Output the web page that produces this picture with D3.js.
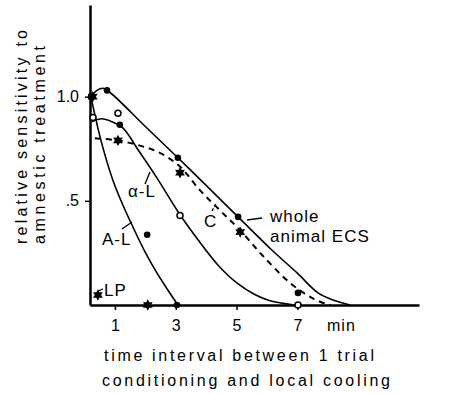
<!DOCTYPE html>
<html>
<head>
<meta charset="utf-8">
<script src="https://cdn.jsdelivr.net/npm/d3@7"></script>
<style>
  body { margin: 0; background: #fff; }
  svg { display: block; font-family: "Liberation Sans", Arial, sans-serif; }
  .axis path, .axis line { stroke: #000; }
  .axis text { font-size: 16px; fill: #000; }
</style>
</head>
<body>
<div id="chart"></div>
<script>
// Curvas (minutos, sensibilidad relativa)
const aLx = [0.21, 0.54, 0.93, 1.26, 1.59, 1.99, 2.38, 2.74, 3.07];
const aLy = [1.0, 0.79, 0.60, 0.48, 0.375, 0.255, 0.154, 0.072, 0];

const alphaLx = [0.24, 0.57, 0.9, 1.26, 1.76, 2.38, 3.14, 3.8, 4.4, 5.01, 5.6, 6.1, 6.9];
const alphaLy = [0.88, 0.894, 0.88, 0.85, 0.745, 0.61, 0.433, 0.30, 0.19, 0.106, 0.05, 0.02, 0];

const wholeX = [0.21, 0.41, 0.61, 0.84, 2.0, 3.07, 4.0, 5.05, 6.16, 6.99, 7.68, 8.17, 8.73];
const wholeY = [1.0, 1.03, 1.04, 1.02, 0.857, 0.707, 0.574, 0.423, 0.264, 0.154, 0.058, 0.024, 0];

const coolX = [0.34, 1.1, 1.82, 2.41, 3.1, 3.8, 4.45, 5.11, 5.84, 6.76, 7.48, 7.94, 8.1];
const coolY = [0.80, 0.79, 0.765, 0.735, 0.67, 0.55, 0.455, 0.36, 0.24, 0.106, 0.034, 0.005, 0];

// Puntos
const filledX = [0.22, 0.74, 3.07, 5.05, 7.02, 1.16, 2.06, 3.04];
const filledY = [1.0, 1.03, 0.707, 0.423, 0.058, 0.865, 0.337, 0];
const openX = [0.28, 1.1, 3.14, 7.02];
const openY = [0.9, 0.92, 0.43, 0];
const starX = [0.27, 1.1, 3.14, 5.12, 0.44, 2.08];
const starY = [1.0, 0.79, 0.635, 0.35, 0.048, 0];

const xTicks = [1, 3, 5, 7];
const yTicks = [0.5, 1.0];
const yTickLabels = [".5", "1.0"];

const width = 454, height = 394;

const svg = d3.select("#chart").append("svg")
    .attr("width", width)
    .attr("height", height);

const x = d3.scaleLinear().domain([0.18, 11.0]).range([90, 419]);
const y = d3.scaleLinear().domain([0, 1.44]).range([305, 5]);

const zip = (xs, ys) => xs.map((v, i) => [v, ys[i]]);
const path = d3.line().x(d => x(d[0])).y(d => y(d[1])).curve(d3.curveCatmullRom.alpha(0.5));

// estrella de seis puntas, como en la figura
const star6 = {
  draw(ctx, size) {
    const R = Math.sqrt(size) * 0.6, r = R * 0.55;
    for (let i = 0; i < 12; i++) {
      const a = Math.PI / 6 * i - Math.PI / 2;
      const rad = i % 2 ? r : R;
      if (i === 0) ctx.moveTo(rad * Math.cos(a), rad * Math.sin(a));
      else ctx.lineTo(rad * Math.cos(a), rad * Math.sin(a));
    }
    ctx.closePath();
  }
};

// Ejes
const gx = svg.append("g").attr("class", "axis")
    .attr("transform", "translate(0,305)")
    .call(d3.axisBottom(x).tickValues(xTicks).tickSize(5).tickSizeOuter(0).tickPadding(10).tickFormat(d3.format("d")));
const gy = svg.append("g").attr("class", "axis")
    .attr("transform", "translate(90,0)")
    .call(d3.axisLeft(y).tickValues(yTicks).tickSize(5).tickSizeOuter(0).tickPadding(6)
        .tickFormat((d, i) => yTickLabels[i]));
svg.selectAll(".axis path").attr("stroke-width", 2.5);
svg.selectAll(".axis line").attr("stroke-width", 1.5);

gx.append("text").attr("x", 327).attr("y", 15).attr("dy", "0.71em")
    .attr("text-anchor", "start").attr("fill", "#000").style("letter-spacing", "1px").text("min");

// Curvas
const curves = [
  { d: zip(aLx, aLy), dash: null },
  { d: zip(alphaLx, alphaLy), dash: null },
  { d: zip(wholeX, wholeY), dash: null },
  { d: zip(coolX, coolY), dash: "6,5" }
];
svg.selectAll(".curve").data(curves).enter().append("path")
    .attr("class", "curve")
    .attr("d", c => path(c.d))
    .attr("fill", "none")
    .attr("stroke", "#000")
    .attr("stroke-width", c => c.dash ? 2 : 1.6)
    .attr("stroke-dasharray", c => c.dash);

// Marcadores
svg.selectAll(".filled").data(zip(filledX, filledY)).enter().append("circle")
    .attr("cx", d => x(d[0])).attr("cy", d => y(d[1])).attr("r", 3.3).attr("fill", "#000");
svg.selectAll(".open").data(zip(openX, openY)).enter().append("circle")
    .attr("cx", d => x(d[0])).attr("cy", d => y(d[1])).attr("r", 3)
    .attr("fill", "#fff").attr("stroke", "#000").attr("stroke-width", 1.5);
svg.selectAll(".star").data(zip(starX, starY)).enter().append("path")
    .attr("transform", d => `translate(${x(d[0])},${y(d[1])})`)
    .attr("d", d3.symbol().type(star6).size(90))
    .attr("fill", "#000");

// Etiquetas de curvas
const labels = [
  { t: "α-L", x: 128, y: 197 },
  { t: "A-L", x: 102, y: 245 },
  { t: "C", x: 204, y: 227 },
  { t: "LP", x: 104, y: 296 },
  { t: "whole", x: 270, y: 222 },
  { t: "animal ECS", x: 270, y: 242 }
];
svg.selectAll(".lbl").data(labels).enter().append("text")
    .attr("x", d => d.x).attr("y", d => d.y)
    .style("font-size", "17px").style("letter-spacing", "1px")
    .text(d => d.t);

const leaders = [
  { x1: 145, y1: 184, x2: 150, y2: 172, dash: null },
  { x1: 122, y1: 229, x2: 132, y2: 222, dash: null },
  { x1: 212, y1: 211, x2: 217, y2: 202, dash: "3,2" },
  { x1: 98, y1: 291, x2: 103, y2: 289, dash: null },
  { x1: 247, y1: 220, x2: 262, y2: 218, dash: null }
];
svg.selectAll(".leader").data(leaders).enter().append("line")
    .attr("x1", d => d.x1).attr("y1", d => d.y1)
    .attr("x2", d => d.x2).attr("y2", d => d.y2)
    .attr("stroke", "#000").attr("stroke-width", 1.3)
    .attr("stroke-dasharray", d => d.dash);

// Títulos de ejes
svg.append("text").attr("x", 104).attr("y", 361)
    .attr("textLength", 270).attr("lengthAdjust", "spacing")
    .style("font-size", "16px").text("time interval between 1 trial");
svg.append("text").attr("x", 102).attr("y", 386)
    .attr("textLength", 288).attr("lengthAdjust", "spacing")
    .style("font-size", "16px").text("conditioning and local cooling");

svg.append("text").attr("transform", "translate(27,244) rotate(-90)")
    .attr("textLength", 214).attr("lengthAdjust", "spacing")
    .style("font-size", "16px").text("relative sensitivity to");
svg.append("text").attr("transform", "translate(45,244) rotate(-90)")
    .attr("textLength", 198).attr("lengthAdjust", "spacing")
    .style("font-size", "16px").text("amnestic treatment");
</script>
</body>
</html>
